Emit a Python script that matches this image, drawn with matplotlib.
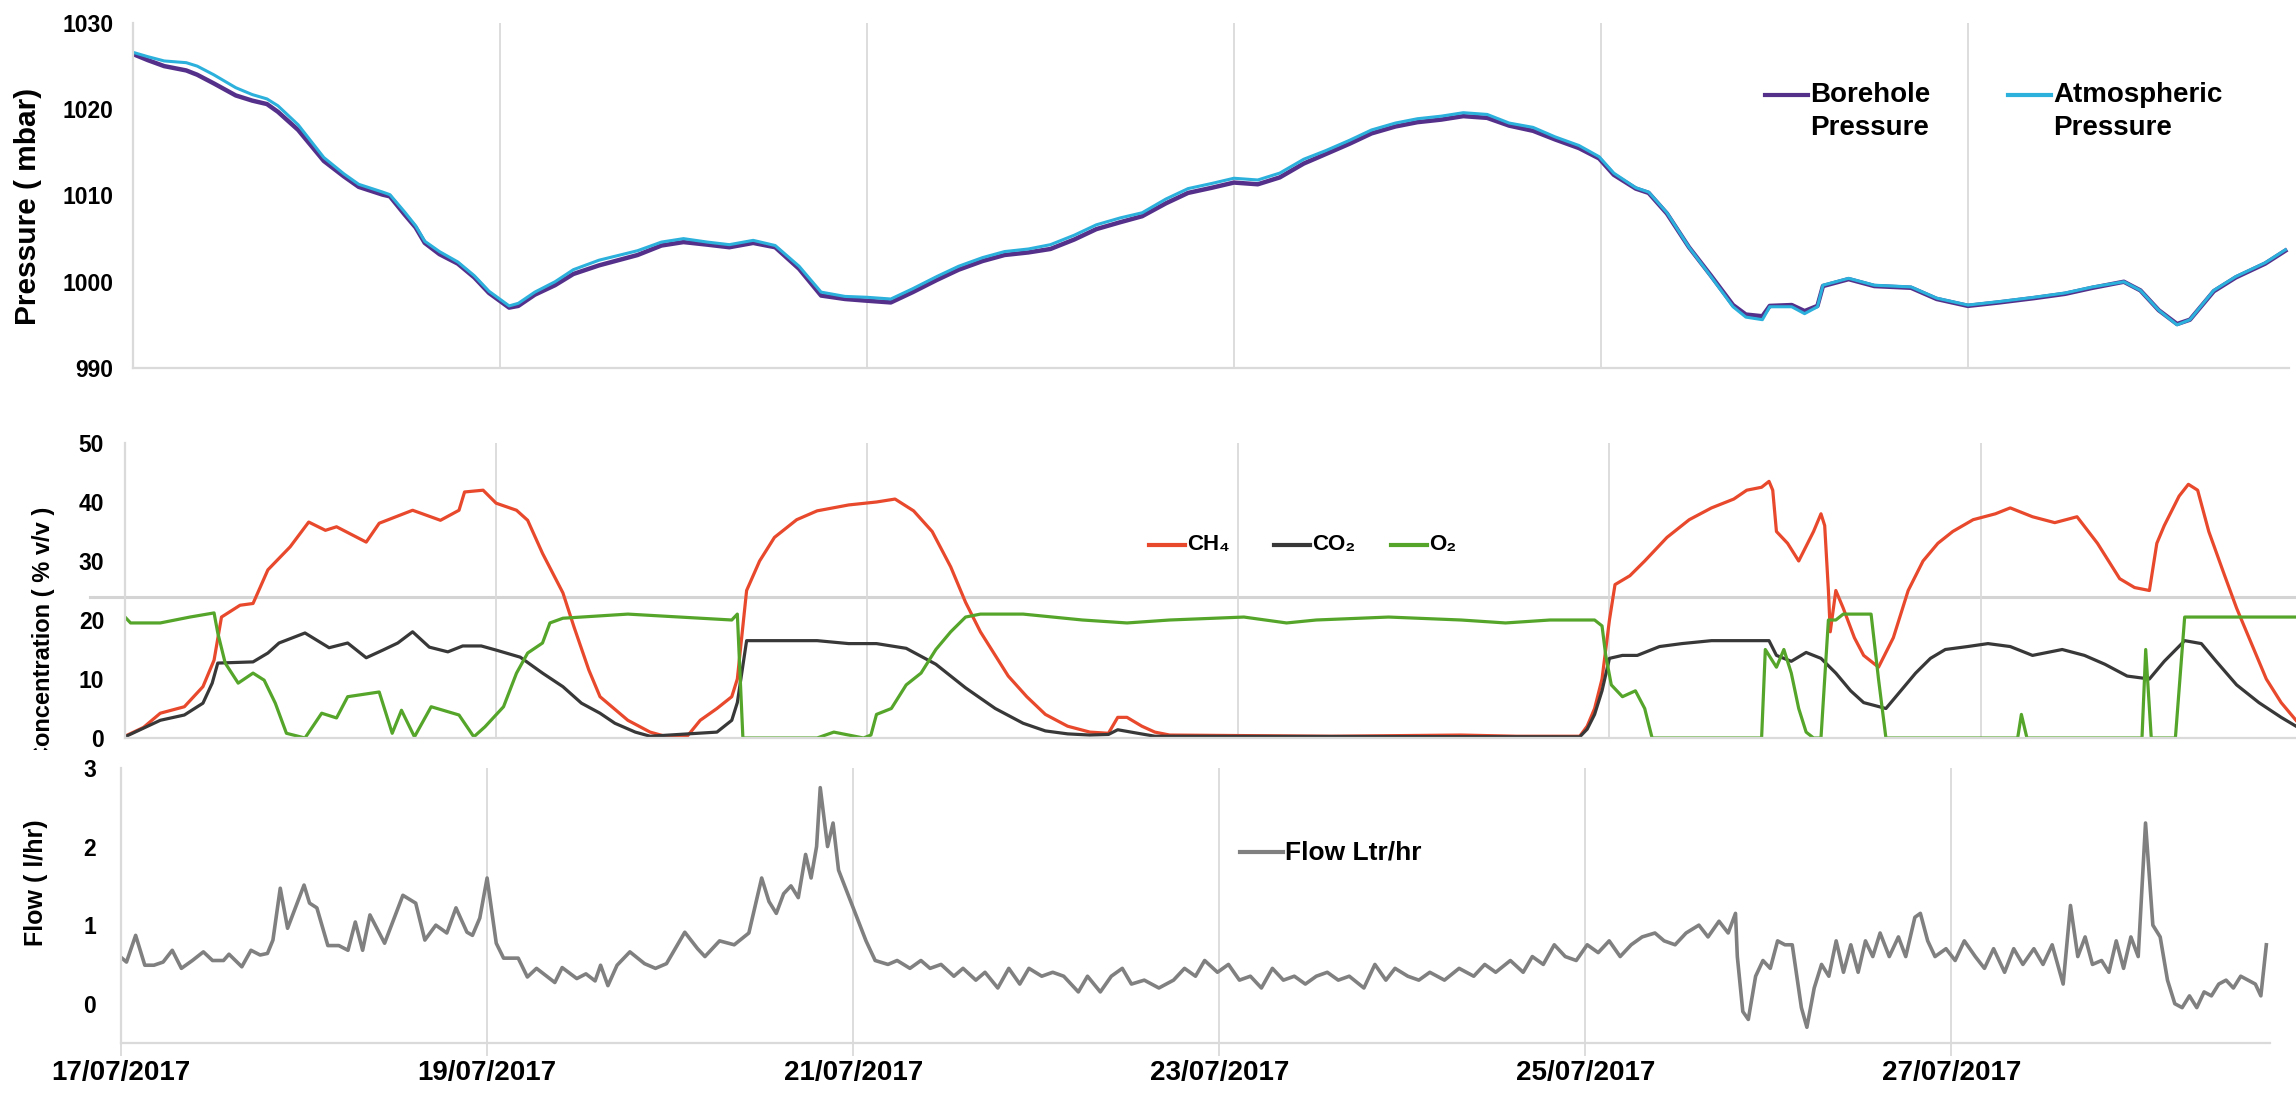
import matplotlib
matplotlib.use('Agg')
import matplotlib.pyplot as plt
from matplotlib.lines import Line2D
from matplotlib.transforms import Bbox, TransformedBbox

W, H, DPI = 2296, 1095, 100

FONT = ['Liberation Sans', 'DejaVu Sans']

# x positions are days since 17/07/2017 00:00
date_ticks = [0, 2, 4, 6, 8, 10]
date_labels = ['17/07/2017', '19/07/2017', '21/07/2017', '23/07/2017',
               '25/07/2017', '27/07/2017']

# (day, borehole mbar, atmospheric mbar)
pressure_readings = [
    (0.00, 1026.4, 1026.6), (0.08, 1025.7, 1026.1), (0.17, 1025.0, 1025.6),
    (0.29, 1024.5, 1025.4), (0.35, 1024.0, 1025.0), (0.44, 1023.0, 1024.0),
    (0.56, 1021.6, 1022.5), (0.65, 1021.0, 1021.7), (0.73, 1020.6, 1021.2),
    (0.79, 1019.7, 1020.4), (0.90, 1017.6, 1018.2), (1.04, 1014.0, 1014.4),
    (1.15, 1012.2, 1012.5), (1.23, 1011.0, 1011.3), (1.36, 1010.1, 1010.4),
    (1.40, 1009.9, 1010.1), (1.48, 1007.8, 1008.1), (1.54, 1006.3, 1006.5),
    (1.59, 1004.5, 1004.7), (1.67, 1003.2, 1003.5), (1.77, 1002.1, 1002.3),
    (1.86, 1000.5, 1000.7), (1.94, 998.7, 998.9), (2.05, 997.0, 997.2),
    (2.10, 997.2, 997.5), (2.19, 998.5, 998.8), (2.30, 999.6, 1000.0),
    (2.40, 1000.9, 1001.4), (2.54, 1001.9, 1002.5), (2.75, 1003.1, 1003.6),
    (2.88, 1004.2, 1004.6), (3.00, 1004.6, 1005.0), (3.13, 1004.3, 1004.6),
    (3.25, 1004.0, 1004.3), (3.38, 1004.5, 1004.8), (3.50, 1004.0, 1004.2),
    (3.63, 1001.5, 1001.8), (3.75, 998.4, 998.8), (3.88, 998.0, 998.3),
    (4.00, 997.8, 998.2), (4.13, 997.6, 998.0), (4.25, 998.8, 999.2),
    (4.38, 1000.2, 1000.6), (4.50, 1001.4, 1001.8), (4.63, 1002.4, 1002.8),
    (4.75, 1003.1, 1003.5), (4.88, 1003.4, 1003.8), (5.00, 1003.8, 1004.3),
    (5.13, 1004.9, 1005.4), (5.25, 1006.1, 1006.6), (5.38, 1006.9, 1007.4),
    (5.50, 1007.6, 1008.0), (5.63, 1009.1, 1009.6), (5.75, 1010.3, 1010.8),
    (5.88, 1010.9, 1011.4), (6.00, 1011.5, 1012.0), (6.13, 1011.3, 1011.8),
    (6.25, 1012.1, 1012.6), (6.38, 1013.7, 1014.2), (6.50, 1014.8, 1015.2),
    (6.63, 1016.0, 1016.4), (6.75, 1017.2, 1017.6), (6.88, 1018.0, 1018.4),
    (7.00, 1018.5, 1018.9), (7.13, 1018.8, 1019.2), (7.25, 1019.2, 1019.6),
    (7.38, 1019.0, 1019.4), (7.50, 1018.1, 1018.4), (7.63, 1017.5, 1017.9),
    (7.75, 1016.5, 1016.8), (7.88, 1015.5, 1015.8), (7.99, 1014.3, 1014.5),
    (8.07, 1012.4, 1012.6), (8.19, 1010.8, 1010.9), (8.26, 1010.3, 1010.4),
    (8.36, 1007.9, 1008.0), (8.48, 1004.0, 1004.0), (8.60, 1000.7, 1000.6),
    (8.72, 997.3, 997.1), (8.79, 996.2, 995.9), (8.88, 996.0, 995.6),
    (8.92, 997.2, 997.1), (9.04, 997.3, 997.1), (9.11, 996.6, 996.3),
    (9.18, 997.2, 997.1), (9.21, 999.5, 999.6), (9.35, 1000.3, 1000.4),
    (9.49, 999.5, 999.6), (9.69, 999.3, 999.4), (9.83, 998.0, 998.1),
    (10.00, 997.2, 997.3), (10.17, 997.6, 997.7), (10.36, 998.1, 998.2),
    (10.53, 998.6, 998.7), (10.68, 999.3, 999.4), (10.85, 1000.0, 1000.0),
    (10.94, 999.0, 999.0), (11.04, 996.7, 996.7), (11.14, 995.1, 995.0),
    (11.21, 995.6, 995.6), (11.34, 998.9, 999.0), (11.46, 1000.5, 1000.6),
    (11.62, 1002.1, 1002.2), (11.73, 1003.6, 1003.7),
]

# gas concentrations, % v/v
ch4_readings = [
    (0, 0.3), (0.1, 1.8), (0.19, 4.2), (0.32, 5.3), (0.42, 8.7), (0.48, 13.2),
    (0.52, 20.5), (0.62, 22.5), (0.69, 22.8), (0.77, 28.5), (0.89, 32.4),
    (0.99, 36.6), (1.08, 35.2), (1.14, 35.8), (1.30, 33.2), (1.37, 36.4),
    (1.55, 38.6), (1.70, 36.9), (1.80, 38.6), (1.83, 41.7), (1.93, 42.0),
    (2.0, 39.8), (2.11, 38.6), (2.17, 36.9), (2.25, 31.3), (2.36, 24.6),
    (2.42, 18.8), (2.50, 11.5), (2.56, 7.0), (2.71, 3.0), (2.83, 1.0),
    (2.91, 0.3), (3.03, 0.3), (3.1, 3.0), (3.19, 5.0), (3.27, 7.0), (3.3, 10.0),
    (3.35, 25.0), (3.42, 30.0), (3.5, 34.0), (3.62, 37.0), (3.73, 38.5),
    (3.9, 39.5), (4.05, 40.0), (4.15, 40.5), (4.25, 38.5), (4.35, 35.0),
    (4.45, 29.0), (4.53, 23.0), (4.61, 18.0), (4.69, 14.0), (4.76, 10.5),
    (4.86, 7.0), (4.96, 4.0), (5.08, 2.0), (5.2, 1.0), (5.3, 0.8), (5.35, 3.5),
    (5.4, 3.5), (5.48, 2.0), (5.55, 1.0), (5.63, 0.5), (6.5, 0.3), (7.2, 0.5),
    (7.5, 0.3), (7.84, 0.3), (7.88, 2.0), (7.92, 5.0), (7.96, 10.0),
    (8.0, 20.0), (8.03, 26.0), (8.11, 27.5), (8.19, 30.0), (8.31, 34.0),
    (8.43, 37.0), (8.55, 39.0), (8.67, 40.5), (8.74, 42.0), (8.82, 42.5),
    (8.86, 43.5), (8.88, 42.0), (8.9, 35.0), (8.96, 33.0), (9.02, 30.0),
    (9.1, 35.0), (9.14, 38.0), (9.16, 36.0), (9.18, 25.0), (9.19, 18.0),
    (9.22, 25.0), (9.26, 22.0), (9.32, 17.0), (9.37, 14.0), (9.45, 12.0),
    (9.53, 17.0), (9.61, 25.0), (9.69, 30.0), (9.77, 33.0), (9.85, 35.0),
    (9.96, 37.0), (10.08, 38.0), (10.16, 39.0), (10.28, 37.5), (10.4, 36.5),
    (10.52, 37.5), (10.63, 33.0), (10.75, 27.0), (10.83, 25.5), (10.91, 25.0),
    (10.95, 33.0), (10.99, 36.0), (11.07, 41.0), (11.12, 43.0), (11.17, 42.0),
    (11.23, 35.0), (11.31, 28.0), (11.38, 22.0), (11.46, 16.0), (11.54, 10.0),
    (11.62, 6.0), (11.7, 3.0),
]

co2_readings = [
    (0, 0.2), (0.19, 3.0), (0.32, 3.9), (0.42, 5.9), (0.47, 9.3), (0.5, 12.7),
    (0.69, 12.9), (0.77, 14.4), (0.83, 16.1), (0.97, 17.8), (1.1, 15.3),
    (1.2, 16.1), (1.3, 13.6), (1.39, 14.9), (1.47, 16.1), (1.55, 18.0),
    (1.64, 15.4), (1.74, 14.6), (1.82, 15.6), (1.92, 15.6), (2.0, 14.9),
    (2.13, 13.7), (2.25, 11.0), (2.36, 8.7), (2.46, 5.9), (2.56, 4.2),
    (2.64, 2.5), (2.75, 1.0), (2.83, 0.3), (3.19, 1.0), (3.27, 3.0), (3.3, 6.0),
    (3.35, 16.5), (3.42, 16.5), (3.73, 16.5), (3.9, 16.0), (4.05, 16.0),
    (4.21, 15.2), (4.37, 12.5), (4.53, 8.5), (4.69, 5.0), (4.84, 2.5),
    (4.96, 1.2), (5.08, 0.7), (5.2, 0.5), (5.3, 0.6), (5.35, 1.4), (5.44, 0.9),
    (5.55, 0.3), (7.84, 0.2), (7.88, 1.5), (7.92, 4.0), (7.96, 8.0),
    (8.0, 13.5), (8.07, 14.0), (8.15, 14.0), (8.27, 15.5), (8.39, 16.0),
    (8.55, 16.5), (8.86, 16.5), (8.9, 14.0), (8.98, 13.0), (9.06, 14.5),
    (9.14, 13.5), (9.22, 11.0), (9.3, 8.0), (9.37, 6.0), (9.49, 5.0),
    (9.57, 8.0), (9.65, 11.0), (9.73, 13.5), (9.81, 15.0), (9.93, 15.5),
    (10.04, 16.0), (10.16, 15.5), (10.28, 14.0), (10.44, 15.0), (10.56, 14.0),
    (10.67, 12.5), (10.79, 10.5), (10.91, 10.0), (10.99, 13.0), (11.1, 16.5),
    (11.19, 16.0), (11.27, 13.0), (11.38, 9.0), (11.5, 6.0), (11.62, 3.5),
    (11.7, 2.0),
]

o2_readings = [
    (0, 20.5), (0.03, 19.5), (0.19, 19.5), (0.35, 20.5), (0.48, 21.2),
    (0.50, 17.8), (0.54, 12.7), (0.61, 9.3), (0.69, 11.0), (0.75, 9.8),
    (0.81, 5.9), (0.87, 0.8), (0.97, 0.0), (1.06, 4.2), (1.14, 3.4), (1.2, 7.0),
    (1.37, 7.8), (1.44, 0.8), (1.49, 4.7), (1.56, 0.2), (1.65, 5.3), (1.8, 3.9),
    (1.88, 0.2), (1.94, 1.9), (2.04, 5.3), (2.11, 11.0), (2.17, 14.4),
    (2.25, 16.1), (2.29, 19.5), (2.36, 20.3), (2.56, 20.7), (2.71, 21.0),
    (3.27, 20.0), (3.3, 21.0), (3.33, 0.0), (3.73, 0.0), (3.82, 1.0),
    (3.98, 0.0), (4.02, 0.5), (4.05, 4.0), (4.13, 5.0), (4.21, 9.0),
    (4.29, 11.0), (4.37, 15.0), (4.45, 18.0), (4.53, 20.5), (4.61, 21.0),
    (4.84, 21.0), (5.16, 20.0), (5.4, 19.5), (5.63, 20.0), (6.03, 20.5),
    (6.26, 19.5), (6.42, 20.0), (6.81, 20.5), (7.2, 20.0), (7.44, 19.5),
    (7.68, 20.0), (7.92, 20.0), (7.96, 19.0), (7.98, 14.0), (8.01, 9.0),
    (8.07, 7.0), (8.14, 8.0), (8.19, 5.0), (8.23, 0.0), (8.82, 0.0),
    (8.84, 15.0), (8.9, 12.0), (8.94, 15.0), (8.98, 11.0), (9.02, 5.0),
    (9.06, 1.0), (9.1, 0.0), (9.14, 0.0), (9.18, 20.0), (9.22, 20.0),
    (9.26, 21.0), (9.41, 21.0), (9.45, 10.0), (9.49, 0.0), (10.2, 0.0),
    (10.22, 4.0), (10.25, 0.0), (10.87, 0.0), (10.89, 15.0), (10.92, 0.0),
    (11.05, 0.0), (11.1, 20.5), (11.31, 20.5), (11.7, 20.5),
]

# gas flow, l/hr
flow_readings = [
    (0, 0.59), (0.03, 0.53), (0.08, 0.87), (0.13, 0.49), (0.18, 0.49),
    (0.23, 0.53), (0.28, 0.68), (0.33, 0.45), (0.39, 0.55), (0.45, 0.66),
    (0.5, 0.55), (0.56, 0.55), (0.59, 0.63), (0.66, 0.47), (0.71, 0.68),
    (0.76, 0.62), (0.8, 0.64), (0.83, 0.81), (0.87, 1.47), (0.91, 0.96),
    (1.0, 1.51), (1.03, 1.28), (1.07, 1.22), (1.13, 0.74), (1.19, 0.74),
    (1.24, 0.68), (1.28, 1.04), (1.32, 0.68), (1.36, 1.13), (1.44, 0.77),
    (1.54, 1.38), (1.61, 1.28), (1.66, 0.81), (1.72, 1.0), (1.78, 0.9),
    (1.83, 1.22), (1.89, 0.91), (1.92, 0.87), (1.96, 1.09), (2.0, 1.6),
    (2.05, 0.77), (2.09, 0.58), (2.17, 0.58), (2.22, 0.34), (2.27, 0.45),
    (2.37, 0.27), (2.41, 0.46), (2.49, 0.32), (2.54, 0.38), (2.59, 0.29),
    (2.62, 0.49), (2.66, 0.23), (2.71, 0.49), (2.78, 0.66), (2.86, 0.51),
    (2.92, 0.45), (2.98, 0.51), (3.08, 0.91), (3.15, 0.7), (3.19, 0.6),
    (3.27, 0.8), (3.35, 0.75), (3.43, 0.9), (3.46, 1.2), (3.5, 1.6),
    (3.54, 1.3), (3.58, 1.15), (3.62, 1.4), (3.66, 1.5), (3.7, 1.35),
    (3.74, 1.9), (3.77, 1.6), (3.8, 2.0), (3.82, 2.75), (3.86, 2.0),
    (3.89, 2.3), (3.92, 1.7), (3.97, 1.4), (4.02, 1.1), (4.07, 0.8),
    (4.12, 0.55), (4.19, 0.5), (4.24, 0.55), (4.31, 0.45), (4.37, 0.55),
    (4.42, 0.45), (4.48, 0.5), (4.55, 0.35), (4.6, 0.45), (4.67, 0.3),
    (4.72, 0.4), (4.79, 0.2), (4.85, 0.45), (4.91, 0.25), (4.96, 0.45),
    (5.03, 0.35), (5.09, 0.4), (5.15, 0.35), (5.23, 0.15), (5.28, 0.35),
    (5.35, 0.15), (5.41, 0.35), (5.47, 0.45), (5.52, 0.25), (5.59, 0.3),
    (5.67, 0.2), (5.75, 0.3), (5.81, 0.45), (5.87, 0.35), (5.92, 0.55),
    (5.99, 0.4), (6.05, 0.5), (6.11, 0.3), (6.17, 0.35), (6.23, 0.2),
    (6.29, 0.45), (6.35, 0.3), (6.41, 0.35), (6.47, 0.25), (6.53, 0.35),
    (6.59, 0.4), (6.65, 0.3), (6.71, 0.35), (6.79, 0.2), (6.85, 0.5),
    (6.91, 0.3), (6.96, 0.45), (7.03, 0.35), (7.09, 0.3), (7.15, 0.4),
    (7.23, 0.3), (7.31, 0.45), (7.39, 0.35), (7.45, 0.5), (7.51, 0.4),
    (7.59, 0.55), (7.66, 0.4), (7.71, 0.6), (7.77, 0.5), (7.83, 0.75),
    (7.89, 0.6), (7.95, 0.55), (8.01, 0.75), (8.07, 0.65), (8.13, 0.8),
    (8.19, 0.6), (8.25, 0.75), (8.31, 0.85), (8.38, 0.9), (8.43, 0.8),
    (8.49, 0.75), (8.55, 0.9), (8.62, 1.0), (8.67, 0.85), (8.73, 1.05),
    (8.78, 0.9), (8.82, 1.15), (8.83, 0.6), (8.86, -0.1), (8.89, -0.2),
    (8.93, 0.35), (8.97, 0.55), (9.01, 0.45), (9.05, 0.8), (9.09, 0.75),
    (9.13, 0.75), (9.18, -0.05), (9.21, -0.3), (9.25, 0.2), (9.29, 0.5),
    (9.33, 0.35), (9.37, 0.8), (9.41, 0.4), (9.45, 0.75), (9.49, 0.4),
    (9.53, 0.8), (9.57, 0.6), (9.61, 0.9), (9.66, 0.6), (9.71, 0.85),
    (9.75, 0.6), (9.8, 1.1), (9.83, 1.15), (9.87, 0.8), (9.91, 0.6),
    (9.97, 0.7), (10.02, 0.55), (10.07, 0.8), (10.13, 0.6), (10.18, 0.45),
    (10.23, 0.7), (10.29, 0.4), (10.34, 0.7), (10.39, 0.5), (10.45, 0.7),
    (10.5, 0.5), (10.55, 0.75), (10.61, 0.25), (10.65, 1.25), (10.69, 0.6),
    (10.73, 0.85), (10.77, 0.5), (10.82, 0.55), (10.86, 0.4), (10.9, 0.8),
    (10.94, 0.45), (10.98, 0.85), (11.02, 0.6), (11.06, 2.3), (11.1, 1.0),
    (11.14, 0.85), (11.18, 0.3), (11.22, 0.0), (11.26, -0.05), (11.3, 0.1),
    (11.34, -0.05), (11.38, 0.15), (11.42, 0.1), (11.46, 0.25), (11.5, 0.3),
    (11.54, 0.2), (11.58, 0.35), (11.62, 0.3), (11.66, 0.25), (11.69, 0.1),
    (11.72, 0.75),
]

BOREHOLE = '#55308a'
ATMOS = '#2cb0dc'
CH4 = '#e8482c'
CO2 = '#383838'
O2 = '#55a52b'
FLOW = '#808080'
GRID = '#dadada'


def columns(readings):
    return [list(c) for c in zip(*readings)]


fig = plt.figure(figsize=(W / DPI, H / DPI), dpi=DPI)


def px_axes(left, top, width, height):
    return fig.add_axes([left / W, 1 - (top + height) / H, width / W, height / H])


def fx(x):
    return x / W


def fy(y):
    return 1 - y / H


def style(ax, xmax, ylim, yticks, pad):
    ax.set_xlim(0, xmax)
    ax.set_ylim(*ylim)
    ax.set_yticks(yticks)
    ax.set_xticks(date_ticks)
    for side in ('top', 'right'):
        ax.spines[side].set_visible(False)
    for side in ('left', 'bottom'):
        ax.spines[side].set_color(GRID)
        ax.spines[side].set_linewidth(1.6)
    ax.grid(axis='x', color=GRID, linewidth=1.3)
    ax.set_axisbelow(True)
    ax.tick_params(axis='y', length=0, pad=pad)
    ax.tick_params(axis='x', length=0, labelbottom=False)
    for t in ax.get_yticklabels():
        t.set_fontfamily(FONT)
        t.set_fontweight('bold')
        t.set_fontsize(16.5)
    ax.patch.set_alpha(0)


def key(x, y, color, lines, size=20, lw=3.0, length=43, step=33):
    fig.add_artist(Line2D([fx(x), fx(x + length)], [fy(y), fy(y)],
                          color=color, lw=lw, transform=fig.transFigure))
    for i, line in enumerate(lines):
        fig.text(fx(x + length + 2), fy(y + i * step), line, fontsize=size,
                 fontweight='bold', family=FONT, ha='left', va='center')


# --- pressure panel ---
ax_p = px_axes(133, 23, 2156, 345)
style(ax_p, 11.75, (990, 1030), [990, 1000, 1010, 1020, 1030], 14)
p_day, p_bore, p_atm = columns(pressure_readings)
ax_p.plot(p_day, p_bore, color=BOREHOLE, lw=3.2, solid_joinstyle='round')
ax_p.plot(p_day, p_atm, color=ATMOS, lw=2.2, solid_joinstyle='round')
key(1765, 95, BOREHOLE, ['Borehole', 'Pressure'])
key(2008, 95, ATMOS, ['Atmospheric', 'Pressure'])
fig.text(fx(28), fy(206), 'Pressure ( mbar)', rotation=90, fontsize=21.5,
         fontweight='bold', family=FONT, ha='center', va='center')

# --- gas concentration panel ---
ax_c = px_axes(125, 443, 2171, 295)
style(ax_c, 11.70, (0, 50), [0, 10, 20, 30, 40, 50], 15)
ax_c.axhline(23.9, xmin=(90 - 125) / 2171, xmax=1, clip_on=False,
             color='#d4d4d4', lw=2.2, zorder=0)
for readings, color in ((ch4_readings, CH4), (co2_readings, CO2), (o2_readings, O2)):
    d, v = columns(readings)
    ax_c.plot(d, v, color=color, lw=2.3, solid_joinstyle='round')
key(1149, 545, CH4, ['CH₄'], size=16, length=36)
key(1274, 545, CO2, ['CO₂'], size=16, length=36)
key(1391, 545, O2, ['O₂'], size=16, length=36)
conc_label = fig.text(fx(44), fy(635), 'Concentration ( % v/v )', rotation=90,
                      fontsize=17, fontweight='bold', family=FONT,
                      ha='center', va='center')
# the lower panel sits over the start of this label
conc_label.set_clip_box(TransformedBbox(Bbox.from_extents(0, fy(750), 1, 1),
                                        fig.transFigure))
conc_label.set_clip_on(True)

# --- flow panel ---
ax_f = px_axes(121, 768, 2149, 275)
style(ax_f, 11.74, (-0.5, 3), [0, 1, 2, 3], 18)
f_day, f_val = columns(flow_readings)
ax_f.plot(f_day, f_val, color=FLOW, lw=2.6, solid_joinstyle='round')
ax_f.tick_params(axis='x', length=9, width=1.3, color=GRID, pad=3,
                 labelbottom=True)
ax_f.set_xticklabels(date_labels, fontsize=20, fontweight='bold',
                     family=FONT)
key(1240, 852, FLOW, ['Flow Ltr/hr'], size=19)
fig.text(fx(36), fy(883), 'Flow ( l/hr)', rotation=90, fontsize=18,
         fontweight='bold', family=FONT, ha='center', va='center')

fig.savefig('out.png', dpi=DPI, facecolor='white')
